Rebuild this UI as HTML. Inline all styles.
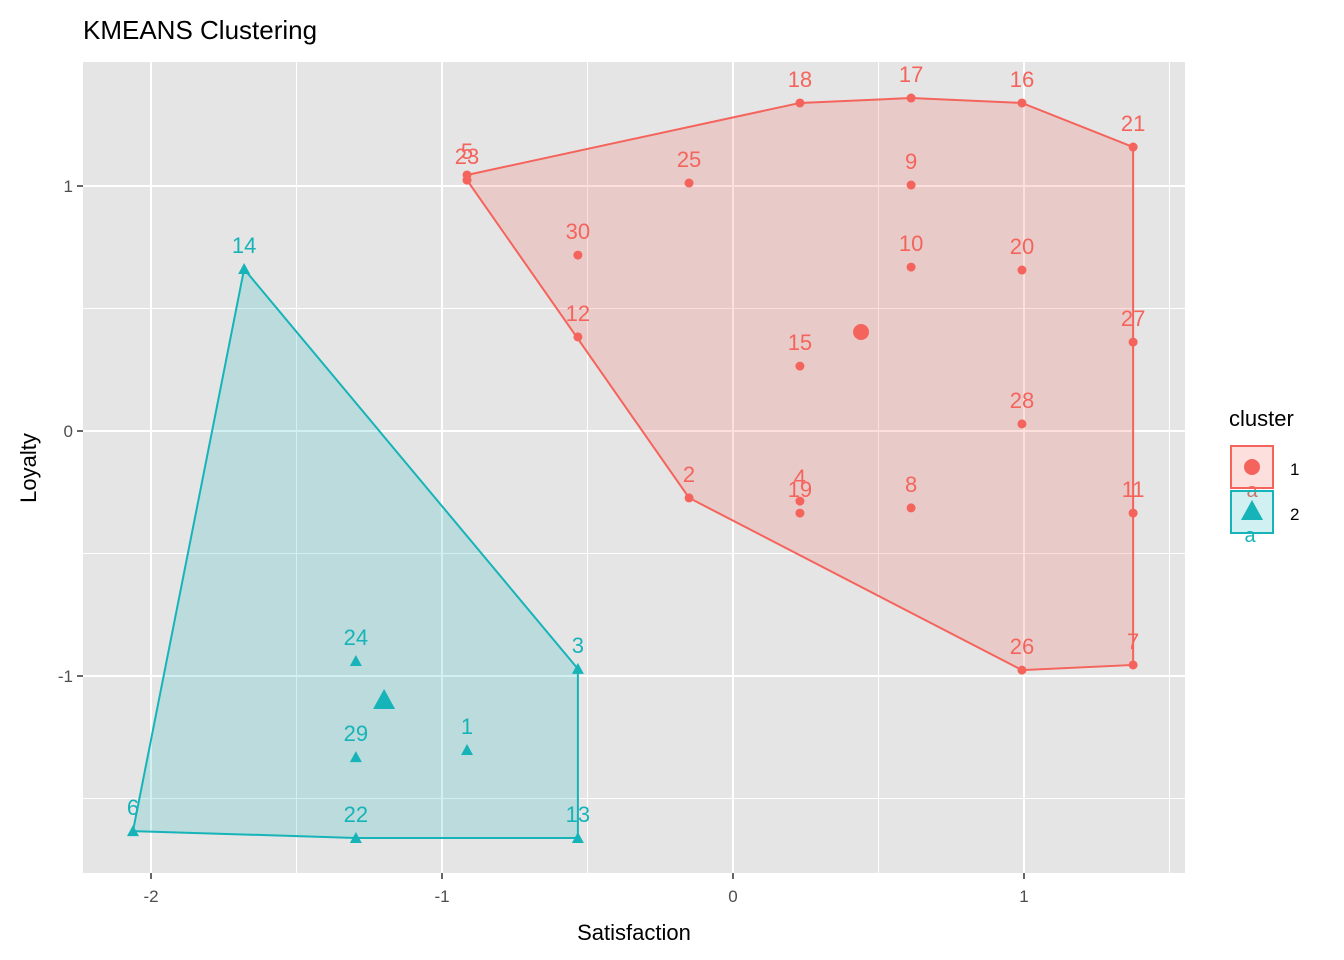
<!DOCTYPE html>
<html><head><meta charset="utf-8"><style>
body{margin:0;background:#fff;}
svg{display:block;font-family:"Liberation Sans",Arial,sans-serif;}
</style></head><body>
<svg id="chart" width="1344" height="960">
<text x="83" y="39" font-size="26" fill="#000">KMEANS Clustering</text>
<rect x="83" y="62" width="1102" height="811" fill="#e5e5e5"/>
<g id="grid"></g>
<g id="hulls"></g>
<g id="points"></g>
<g id="axes"></g>
<text x="634" y="940" font-size="22" text-anchor="middle">Satisfaction</text>
<text transform="translate(36,468) rotate(-90)" font-size="22" text-anchor="middle">Loyalty</text>
<g>
<text x="1229" y="426" font-size="22">cluster</text>
<g>
<rect x="1231" y="446" width="42" height="42" fill="#F4645C" fill-opacity="0.2" stroke="#F4645C" stroke-width="2"/>
<text x="1252" y="497" font-size="20" fill="#F4645C" text-anchor="middle">a</text>
<circle cx="1252" cy="467" r="8" fill="#F4645C"/>
<text x="1290" y="475" font-size="17">1</text></g>
<g>
<rect x="1231" y="491" width="42" height="42" fill="#16B4B8" fill-opacity="0.2" stroke="#16B4B8" stroke-width="2"/>
<text x="1250" y="542" font-size="20" fill="#16B4B8" text-anchor="middle">a</text>
<polygon points="1252,500 1263,520 1241,520" fill="#16B4B8"/>
<text x="1290" y="520" font-size="17">2</text></g>
</g>
</svg>
<script>
const ids1=[5,23,18,17,16,21,25,9,30,10,20,12,27,15,28,2,4,19,8,11,26,7];
const xs1=[-0.914,-0.914,0.23,0.612,0.993,1.375,-0.151,0.612,-0.533,0.612,0.993,-0.533,1.375,0.23,0.993,-0.151,0.23,0.23,0.612,1.375,0.993,1.375];
const ys1=[1.045,1.024,1.339,1.359,1.339,1.159,1.012,1.004,0.718,0.669,0.657,0.384,0.363,0.265,0.029,-0.273,-0.286,-0.335,-0.314,-0.335,-0.976,-0.955];
const ids2=[14,24,3,1,29,6,22,13];
const xs2=[-1.68,-1.296,-0.533,-0.914,-1.296,-2.062,-1.296,-0.533];
const ys2=[0.661,-0.939,-0.971,-1.302,-1.331,-1.633,-1.661,-1.661];
const centersX=[0.44,-1.199];
const centersY=[0.404,-1.098];
const xTicks=[-2,-1,0,1];
const yTicks=[-1,0,1];
const X=v=>733+291*v, Y=v=>431-245*v;
const NS="http://www.w3.org/2000/svg";
function mk(t,a,p){const e=document.createElementNS(NS,t);for(const k in a)e.setAttribute(k,a[k]);p.appendChild(e);return e;}
const grid=document.getElementById('grid'),axes=document.getElementById('axes');
[-1.5,-0.5,0.5,1.5].forEach(v=>{const l=mk('line',{x1:X(v),x2:X(v),y1:62,y2:873,stroke:'#fff','stroke-width':1},grid);});
[-1.5,-0.5,0.5].forEach(v=>{const l=mk('line',{x1:83,x2:1185,y1:Y(v),y2:Y(v),stroke:'#fff','stroke-width':1},grid);});
xTicks.forEach(v=>{const l=mk('line',{x1:X(v),x2:X(v),y1:62,y2:873,stroke:'#fff','stroke-width':2},grid);
mk('line',{x1:X(v),x2:X(v),y1:873,y2:879,stroke:'#333','stroke-width':1.5},axes);
const t=mk('text',{x:X(v),y:902,'font-size':17,'text-anchor':'middle',fill:'#4d4d4d'},axes);t.textContent=v;});
yTicks.forEach(v=>{const l=mk('line',{x1:83,x2:1185,y1:Y(v),y2:Y(v),stroke:'#fff','stroke-width':2},grid);
mk('line',{x1:77,x2:83,y1:Y(v),y2:Y(v),stroke:'#333','stroke-width':1.5},axes);
const t=mk('text',{x:73,y:Y(v)+6,'font-size':17,'text-anchor':'end',fill:'#4d4d4d'},axes);t.textContent=v;});
function hull(xs,ys){let p=xs.map((x,i)=>[x,ys[i]]).sort((a,b)=>a[0]-b[0]||a[1]-b[1]);
const cr=(o,a,b)=>(a[0]-o[0])*(b[1]-o[1])-(a[1]-o[1])*(b[0]-o[0]);
const lo=[],up=[];for(const q of p){while(lo.length>=2&&cr(lo[lo.length-2],lo[lo.length-1],q)<=0)lo.pop();lo.push(q);}
for(const q of p.slice().reverse()){while(up.length>=2&&cr(up[up.length-2],up[up.length-1],q)<=0)up.pop();up.push(q);}
return lo.slice(0,-1).concat(up.slice(0,-1));}
const hg=document.getElementById('hulls'),pg=document.getElementById('points');
const cols=['#F4645C','#16B4B8'];
[[xs1,ys1,ids1],[xs2,ys2,ids2]].forEach(([xs,ys,ids],c)=>{
const h=hull(xs,ys);const poly=mk('polygon',{points:h.map(q=>X(q[0])+','+Y(q[1])).join(' '),fill:cols[c],'fill-opacity':0.2,stroke:cols[c],'stroke-width':2},hg);

xs.forEach((x,i)=>{const cx=X(x),cy=Y(ys[i]);let e;
if(c===0)e=mk('circle',{cx,cy,r:4.5,fill:cols[0]},pg);else e=mk('polygon',{points:`${cx},${cy-6} ${cx+6},${cy+5} ${cx-6},${cy+5}`,fill:cols[1]},pg);

const t=mk('text',{x:cx,y:cy-16,'font-size':22,'text-anchor':'middle',fill:cols[c]},pg);t.textContent=ids[i];
});
const cx=X(centersX[c]),cy=Y(centersY[c]);let e;
if(c===0)e=mk('circle',{cx,cy,r:8,fill:cols[0]},pg);else e=mk('polygon',{points:`${cx},${cy-11} ${cx+11},${cy+9} ${cx-11},${cy+9}`,fill:cols[1]},pg);
});
</script>
</body></html>
